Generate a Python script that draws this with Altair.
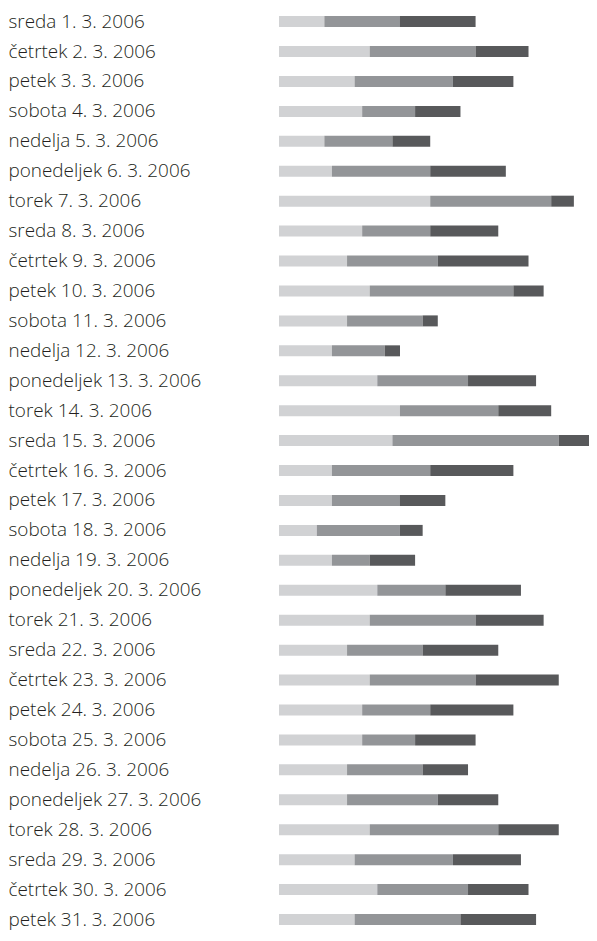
import altair as alt
import pandas as pd

weekdays = ["sreda", "četrtek", "petek", "sobota", "nedelja", "ponedeljek", "torek",
            "sreda", "četrtek", "petek", "sobota", "nedelja", "ponedeljek", "torek",
            "sreda", "četrtek", "petek", "sobota", "nedelja", "ponedeljek", "torek",
            "sreda", "četrtek", "petek", "sobota", "nedelja", "ponedeljek", "torek",
            "sreda", "četrtek", "petek"]
day_numbers = list(range(1, 32))
labels = [f"{w} {d}. 3. 2006" for w, d in zip(weekdays, day_numbers)]

seg1 = [6, 12, 10, 11, 6, 7, 20, 11, 9, 12, 9, 7, 13, 16, 15, 7, 7, 5, 7, 13, 12, 9, 12, 11, 11, 9, 9, 12, 10, 13, 10]
seg2 = [10, 14, 13, 7, 9, 13, 16, 9, 12, 19, 10, 7, 12, 13, 22, 13, 9, 11, 5, 9, 14, 10, 14, 9, 7, 10, 12, 17, 13, 12, 14]
seg3 = [10, 7, 8, 6, 5, 10, 3, 9, 12, 4, 2, 2, 9, 7, 5, 11, 6, 3, 6, 10, 9, 10, 11, 11, 8, 6, 8, 8, 9, 8, 10]
series = ["A", "B", "C"]
colors = ["#d1d2d4", "#939598", "#58595b"]

rows = []
for i, lab in enumerate(labels):
    for k, (s, vals) in enumerate(zip(series, [seg1, seg2, seg3])):
        rows.append({"day": lab, "series": s, "order": k, "value": vals[i]})
df = pd.DataFrame(rows)

chart = alt.Chart(df).mark_bar(clip=True).encode(
    y=alt.Y("day:N", sort=labels,
            scale=alt.Scale(paddingInner=0.6325, paddingOuter=0.1353, align=1.0),
            axis=alt.Axis(title=None, ticks=False, domain=False, labelAlign="left",
                          labelPadding=271, labelFont="Open Sans", labelFontSize=18.9,
                          labelFontWeight=300, labelColor="#231f20", labelLimit=0,
                          labelBaseline="middle")),
    x=alt.X("value:Q", stack="zero", scale=alt.Scale(domain=[0, 41], nice=False, zero=True),
            axis=None),
    color=alt.Color("series:N", scale=alt.Scale(domain=series, range=colors), legend=None),
    order=alt.Order("order:Q"),
).properties(width=310, height=917,
             padding={"top": 0, "left": 0, "right": 0, "bottom": 4}).configure_view(stroke=None)

chart.save("out.html", embed_options={"renderer": "svg", "actions": False})
